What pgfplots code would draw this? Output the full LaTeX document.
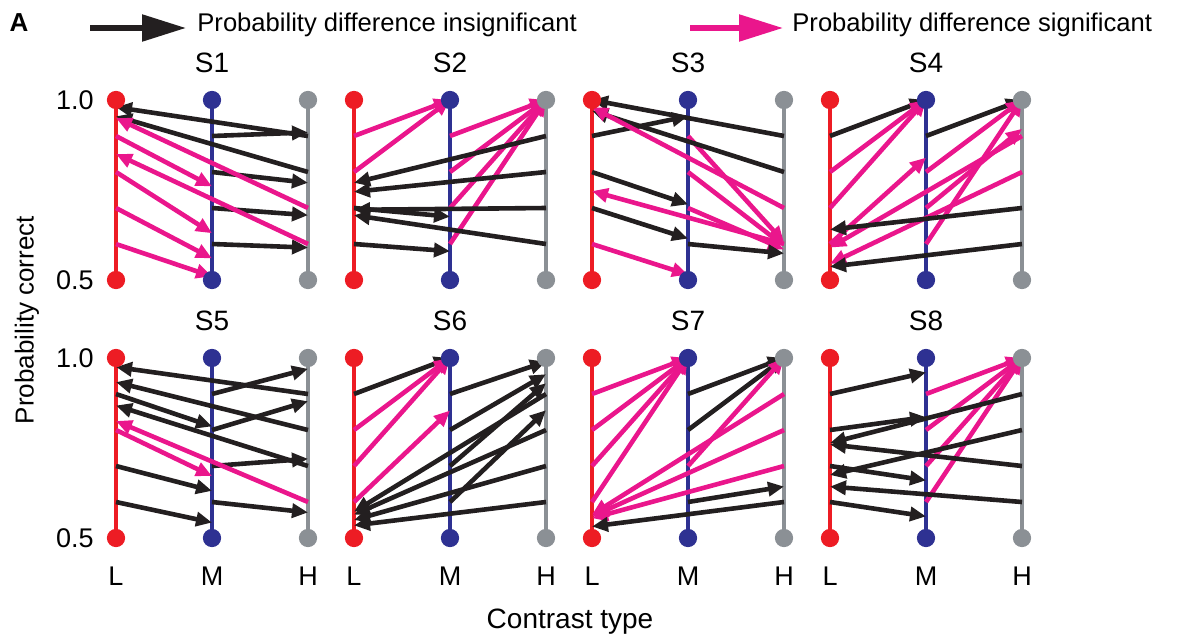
\documentclass[border=0pt]{standalone}
\usepackage{fontspec}
\setmainfont{Liberation Sans}
\usepackage{pgfplots}
\pgfplotsset{compat=1.18}
\usetikzlibrary{arrows.meta}

\definecolor{lowc}{RGB}{237,28,36}
\definecolor{midc}{RGB}{46,49,146}
\definecolor{highc}{RGB}{139,144,149}
\definecolor{sigc}{RGB}{234,22,140}
\definecolor{nsigc}{RGB}{35,31,32}

\pgfplotsset{
  panel/.style={
    scale only axis, width=115.2pt, height=90pt,
    xmin=-0.2, xmax=2.2, ymin=0.5, ymax=1, clip=false,
    axis line style={draw=none}, tick style={draw=none},
    xtick=\empty, ytick=\empty, anchor=south west,
    title style={at={(0.5,1)}, anchor=center, yshift=12.5pt, font=\fontsize{14}{16}\selectfont},
    ticklabel style={font=\fontsize{13.5}{16}\selectfont},
    /pgf/number format/assume math mode=true,
    yticklabel style={/pgf/number format/fixed, /pgf/number format/fixed zerofill,
      /pgf/number format/precision=1, xshift=2pt},
    xticklabel style={yshift=-11pt},
  },
  arrN/.style={nsigc, line width=2.3pt, -{Triangle[length=8pt,width=7pt]}},
  arrS/.style={sigc, line width=2.3pt, -{Triangle[length=8pt,width=7pt]}},
  cond/.style={draw=#1, line width=1.6pt, mark=*, mark size=3.75pt,
    mark options={draw=none, fill=#1}},
}

% the three contrast columns of one subject
\newcommand{\base}{%
  \addplot[cond=lowc] coordinates {(0,0.5) (0,1)};
  \addplot[cond=midc] coordinates {(1,0.5) (1,1)};
  \addplot[cond=highc] coordinates {(2,0.5) (2,1)};
}
% from-x from-y to-x to-y
\newcommand{\arN}[4]{\addplot[arrN] coordinates {(#1,#2) (#3,#4)};}
\newcommand{\arS}[4]{\addplot[arrS] coordinates {(#1,#2) (#3,#4)};}

\begin{document}
\begin{tikzpicture}
\useasboundingbox (0,0) rectangle (588.5pt,-321.5pt);

% header
\node[font=\fontsize{13}{15}\selectfont\bfseries] at (9.5pt,-11.5pt) {A};
\draw[nsigc, line width=2.7pt, -{Triangle[length=22pt,width=13pt]}] (45pt,-14pt) -- (93pt,-14pt);
\node[anchor=west, inner sep=0pt, font=\fontsize{12.8}{14}\selectfont] at (98.5pt,-12.5pt) {Probability difference insignificant};
\draw[sigc, line width=2.7pt, -{Triangle[length=22pt,width=13pt]}] (345pt,-14pt) -- (391.5pt,-14pt);
\node[anchor=west, inner sep=0pt, font=\fontsize{12.8}{14}\selectfont] at (396pt,-12.5pt) {Probability difference significant};

\node[rotate=90, font=\fontsize{13}{15}\selectfont] at (13.5pt,-160pt) {Probability correct};
\node[font=\fontsize{14}{16}\selectfont] at (285pt,-311pt) {Contrast type};

% S1
\begin{axis}[panel, at={(48.4pt,-140pt)}, title={S1}, ytick={0.5,1}]
\base
\arS{0}{0.9}{1}{0.76}
\arS{0}{0.8}{1}{0.63}
\arS{0}{0.7}{1}{0.56}
\arS{0}{0.6}{1}{0.51}
\arN{1}{0.9}{2}{0.91}
\arN{1}{0.8}{2}{0.77}
\arN{1}{0.7}{2}{0.68}
\arN{1}{0.6}{2}{0.59}
\arN{2}{0.9}{0}{0.98}
\arN{2}{0.8}{0}{0.955}
\arS{2}{0.7}{0}{0.95}
\arS{2}{0.6}{0}{0.85}
\end{axis}

% S2
\begin{axis}[panel, at={(167.4pt,-140pt)}, title={S2}]
\base
\arS{0}{0.9}{1}{1}
\arS{0}{0.8}{1}{1}
\arN{0}{0.7}{1}{0.676}
\arN{0}{0.6}{1}{0.58}
\arS{1}{0.9}{2}{1}
\arS{1}{0.8}{2}{1}
\arS{1}{0.7}{2}{1}
\arS{1}{0.6}{2}{1}
\arN{2}{0.9}{0}{0.77}
\arN{2}{0.8}{0}{0.745}
\arN{2}{0.7}{0}{0.695}
\arN{2}{0.6}{0}{0.68}
\end{axis}

% S3
\begin{axis}[panel, at={(286.4pt,-140pt)}, title={S3}]
\base
\arN{0}{0.9}{1}{0.955}
\arN{0}{0.8}{1}{0.71}
\arN{0}{0.7}{1}{0.615}
\arS{0}{0.6}{1}{0.515}
\arS{1}{0.9}{2}{0.605}
\arS{1}{0.8}{2}{0.595}
\arS{1}{0.7}{2}{0.585}
\arN{1}{0.6}{2}{0.574}
\arN{2}{0.9}{0}{1}
\arN{2}{0.8}{0}{0.97}
\arS{2}{0.7}{0}{0.98}
\arS{2}{0.6}{0}{0.747}
\end{axis}

% S4
\begin{axis}[panel, at={(405.4pt,-140pt)}, title={S4}]
\base
\arN{0}{0.9}{1}{1}
\arS{0}{0.8}{1}{1}
\arS{0}{0.7}{1}{1}
\arS{0}{0.6}{1}{0.84}
\arN{1}{0.9}{2}{1}
\arS{1}{0.8}{2}{1}
\arS{1}{0.7}{2}{0.92}
\arS{1}{0.6}{2}{1}
\arS{2}{0.9}{0}{0.59}
\arS{2}{0.8}{0}{0.545}
\arN{2}{0.7}{0}{0.64}
\arN{2}{0.6}{0}{0.537}
\end{axis}

% S5
\begin{axis}[panel, at={(48.4pt,-269pt)}, title={S5}, ytick={0.5,1},
  xtick={0,1,2}, xticklabels={L,M,H}]
\base
\arN{0}{0.9}{1}{0.81}
\arS{0}{0.8}{1}{0.672}
\arN{0}{0.7}{1}{0.631}
\arN{0}{0.6}{1}{0.543}
\arN{1}{0.9}{2}{0.97}
\arN{1}{0.8}{2}{0.88}
\arN{1}{0.7}{2}{0.72}
\arN{1}{0.6}{2}{0.571}
\arN{2}{0.9}{0}{0.975}
\arN{2}{0.8}{0}{0.933}
\arN{2}{0.7}{0}{0.868}
\arS{2}{0.6}{0}{0.825}
\end{axis}

% S6
\begin{axis}[panel, at={(167.4pt,-269pt)}, title={S6},
  xtick={0,1,2}, xticklabels={L,M,H}]
\base
\arN{0}{0.9}{1}{1}
\arS{0}{0.8}{1}{1}
\arS{0}{0.7}{1}{1}
\arS{0}{0.6}{1}{0.854}
\arN{1}{0.9}{2}{0.99}
\arN{1}{0.8}{2}{0.955}
\arN{1}{0.7}{2}{0.93}
\arN{1}{0.6}{2}{0.855}
\arN{2}{0.9}{0}{0.573}
\arN{2}{0.8}{0}{0.565}
\arN{2}{0.7}{0}{0.55}
\arN{2}{0.6}{0}{0.535}
\end{axis}

% S7
\begin{axis}[panel, at={(286.4pt,-269pt)}, title={S7},
  xtick={0,1,2}, xticklabels={L,M,H}]
\base
\arS{0}{0.9}{1}{1}
\arS{0}{0.8}{1}{1}
\arS{0}{0.7}{1}{1}
\arS{0}{0.6}{1}{1}
\arN{1}{0.9}{2}{1}
\arN{1}{0.8}{2}{1}
\arS{1}{0.7}{2}{1}
\arN{1}{0.6}{2}{0.643}
\arS{2}{0.9}{0}{0.565}
\arS{2}{0.8}{0}{0.56}
\arS{2}{0.7}{0}{0.555}
\arN{2}{0.6}{0}{0.532}
\end{axis}

% S8
\begin{axis}[panel, at={(405.4pt,-269pt)}, title={S8},
  xtick={0,1,2}, xticklabels={L,M,H}]
\base
\arN{0}{0.9}{1}{0.96}
\arN{0}{0.8}{1}{0.836}
\arN{0}{0.7}{1}{0.66}
\arN{0}{0.6}{1}{0.56}
\arS{1}{0.9}{2}{1}
\arS{1}{0.8}{2}{1}
\arS{1}{0.7}{2}{1}
\arS{1}{0.6}{2}{1}
\arN{2}{0.9}{0}{0.764}
\arN{2}{0.8}{0}{0.675}
\arN{2}{0.7}{0}{0.76}
\arN{2}{0.6}{0}{0.643}
\end{axis}
\end{tikzpicture}
\end{document}
